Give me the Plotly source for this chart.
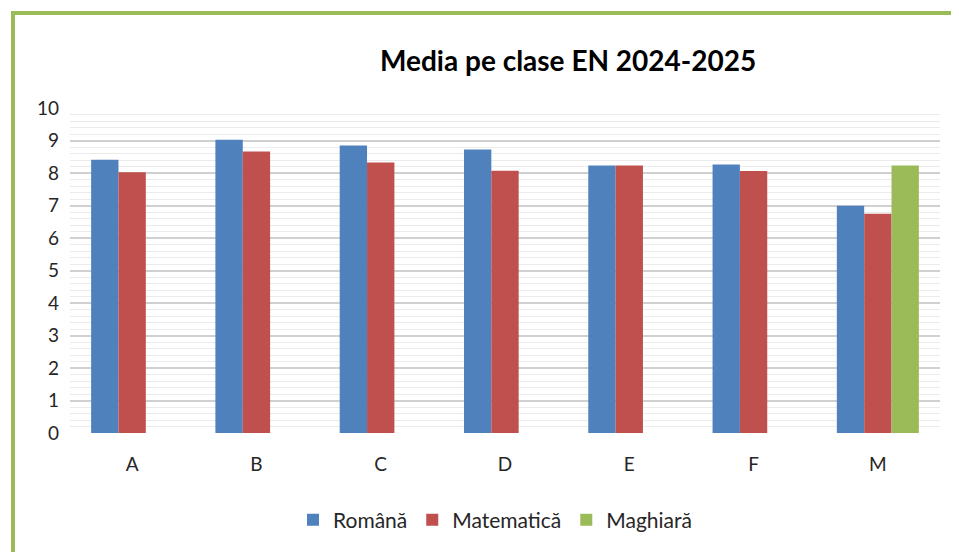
import plotly.graph_objects as go

categories = ["A", "B", "C", "D", "E", "F", "M"]
romana = [8.41, 9.02, 8.85, 8.72, 8.23, 8.26, 6.99]
matematica = [8.02, 8.66, 8.32, 8.07, 8.23, 8.06, 6.75]
maghiara = [None, None, None, None, None, None, 8.23]
series_names = ["Română", "Matematică", "Maghiară"]
colors = ["#4f81bd", "#c0504d", "#9bbb59"]
title_text = "Media pe clase EN 2024-2025"

OFF = 8  # page body margin
W, H = 959, 552
# target plot area in window pixels: x 70..940, y 108..433
L, T = 70 - OFF, 108 - OFF
R = W - (940 - OFF)
B = H - (433 - OFF)
pw, ph = W - L - R, H - T - B

def px(x):
    return (x - OFF - L) / pw

def py(y):
    return (H - B - (y - OFF)) / ph

FONT = "Lato"

fig = go.Figure()
for name, vals, col in zip(series_names, [romana, matematica, maghiara], colors):
    fig.add_trace(go.Bar(x=categories, y=vals, name=name, marker=dict(color=col, line=dict(width=0))))

fig.update_layout(
    width=W, height=H,
    margin=dict(l=L, r=R, t=T, b=B),
    paper_bgcolor="white", plot_bgcolor="white",
    barmode="group", bargap=0.34, bargroupgap=0,
    font=dict(family=FONT, size=19, color="#262626"),
    showlegend=True,
    legend=dict(orientation="h", xanchor="center", yanchor="middle",
                x=px(495), y=py(520), font=dict(size=21, color="#262626"),
                itemwidth=30, tracegroupgap=0),
    xaxis=dict(showgrid=False, showline=False, zeroline=False, ticks="",
               tickfont=dict(size=19), ticklabelstandoff=18),
    yaxis=dict(range=[0, 10], dtick=1, showgrid=True, gridcolor="#d0d0d0", gridwidth=1.5,
               zeroline=False, showline=False, ticks="", tickfont=dict(size=19),
               ticklabelstandoff=10,
               minor=dict(dtick=0.2, showgrid=True, gridcolor="#ebebeb", gridwidth=1)),
    annotations=[dict(text="<b>" + title_text + "</b>", xref="paper", yref="paper",
                      x=px(568), y=py(60), xanchor="center", yanchor="middle",
                      showarrow=False, font=dict(size=28, color="#000000", family=FONT))],
    shapes=[dict(type="rect", xref="paper", yref="paper",
                 x0=px(13), x1=px(1000), y0=py(600), y1=py(13),
                 line=dict(color="#9bbb59", width=4), fillcolor="rgba(0,0,0,0)", layer="above")],
)

fig.write_html("out.html")
